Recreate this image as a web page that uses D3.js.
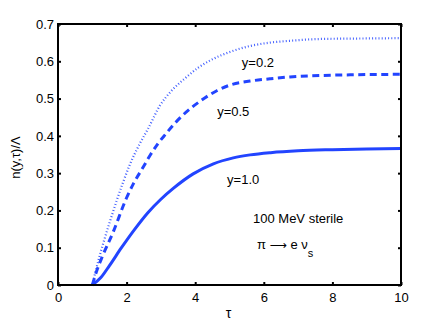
<!DOCTYPE html>
<html>
<head>
<meta charset="utf-8">
<script src="https://cdn.jsdelivr.net/npm/d3@7"></script>
<style>
  body { margin: 0; background: #fff; }
  svg text { font-family: "Liberation Sans", Arial, sans-serif; fill: #000; }
  .axis text { font-size: 13px; }
  .frame { fill: none; stroke: #000; stroke-width: 2; }
  .curve { fill: none; stroke: #2244ff; }
</style>
</head>
<body>
<div class="mainview"></div>
<script>

// tau values and n(y,tau)/Lambda
const tauSolid = [1, 1.25, 1.5, 1.85, 2.24, 2.62, 3.0, 3.36, 3.94, 4.53, 5.11, 5.6, 6.2, 7, 8, 9, 10];
const nSolid   = [0, 0.02, 0.052, 0.100, 0.150, 0.194, 0.230, 0.259, 0.298, 0.325, 0.341, 0.349, 0.355, 0.360, 0.363, 0.365, 0.366];

const tauDashed = [1, 1.13, 1.3, 1.6, 2.0, 2.2, 2.49, 2.66, 2.92, 3.16, 3.38, 3.61, 4.19, 4.63, 5.01, 5.6, 6.18, 6.76, 7.73, 8.71, 10];
const nDashed   = [0, 0.038, 0.078, 0.140, 0.234, 0.272, 0.317, 0.344, 0.380, 0.407, 0.431, 0.453, 0.496, 0.521, 0.536, 0.547, 0.553, 0.558, 0.562, 0.564, 0.565];

const tauDotted = [1, 1.13, 1.32, 1.52, 1.71, 1.9, 2.1, 2.39, 2.63, 2.97, 3.31, 3.7, 4.09, 4.43, 5.01, 5.6, 6.18, 6.76, 7.73, 8.71, 10];
const nDotted   = [0, 0.049, 0.112, 0.172, 0.226, 0.276, 0.324, 0.380, 0.420, 0.481, 0.521, 0.554, 0.583, 0.602, 0.625, 0.641, 0.650, 0.655, 0.660, 0.661, 0.662];

const xTicks = [0, 2, 4, 6, 8, 10];
const yTicks = [0, 0.1, 0.2, 0.3, 0.4, 0.5, 0.6, 0.7];

const dim = { width: 443, height: 324 };
const margin = { top: 24, right: 42, bottom: 39, left: 58 };

const x = d3.scaleLinear()
    .domain([0, 10])
    .range([margin.left, dim.width - margin.right]);

const y = d3.scaleLinear()
    .domain([0, 0.7])
    .range([dim.height - margin.bottom, margin.top]);

const svg = d3.select(".mainview").append("svg")
    .attr("width", dim.width)
    .attr("height", dim.height);

// curves

const line = d3.line()
    .curve(d3.curveMonotoneX)
    .x(d => x(d[0]))
    .y(d => y(d[1]));

const series = [
    { t: tauDotted, n: nDotted, width: 2.2, dash: "1,2.2", op: 0.85 },
    { t: tauDashed, n: nDashed, width: 3, dash: "7,4.5", op: 1 },
    { t: tauSolid, n: nSolid, width: 3, dash: null, op: 1 }
];

svg.append("g")
    .selectAll("path")
    .data(series)
    .join("path")
    .attr("class", "curve")
    .attr("stroke-width", d => d.width)
    .attr("stroke-dasharray", d => d.dash)
    .attr("stroke-opacity", d => d.op)
    .attr("d", d => line(d3.zip(d.t, d.n)));

// axes

const x0 = margin.left, x1 = dim.width - margin.right;
const y0 = dim.height - margin.bottom, y1 = margin.top;

svg.append("g")
    .attr("class", "axis x")
    .attr("transform", `translate(0, ${y0})`)
    .call(d3.axisBottom(x).tickValues(xTicks).tickSize(-3).tickPadding(5).tickFormat(d3.format("d")))
    .call(g => g.select(".domain").remove())
    .call(g => g.selectAll("text").attr("dy", "0.9em"));

svg.append("g")
    .attr("class", "axis y")
    .attr("transform", `translate(${x0}, 0)`)
    .call(d3.axisLeft(y).tickValues(yTicks).tickSize(-3).tickPadding(4)
        .tickFormat(d => d === 0 ? "0" : d3.format(".1f")(d)))
    .call(g => g.select(".domain").remove());

// mirrored ticks on top and right
svg.append("g")
    .attr("transform", `translate(0, ${y1})`)
    .call(d3.axisTop(x).tickValues(xTicks).tickSize(-3).tickFormat(""))
    .call(g => g.select(".domain").remove());

svg.append("g")
    .attr("transform", `translate(${x1}, 0)`)
    .call(d3.axisRight(y).tickValues(yTicks).tickSize(-3).tickFormat(""))
    .call(g => g.select(".domain").remove());

svg.selectAll(".tick line").attr("stroke", "#000").attr("stroke-width", 2);

svg.append("rect")
    .attr("class", "frame")
    .attr("x", x0).attr("y", y1)
    .attr("width", x1 - x0)
    .attr("height", y0 - y1);

// labels

svg.append("text")
    .attr("x", (x0 + x1) / 2 - 1)
    .attr("y", 318)
    .attr("text-anchor", "middle")
    .style("font-size", "14px")
    .text("τ");

svg.append("text")
    .attr("transform", `translate(20, ${(y0 + y1) / 2 + 3}) rotate(-90)`)
    .attr("text-anchor", "middle")
    .style("font-size", "13px")
    .text("n(y,τ)/Λ");

const notes = [
    { text: "y=0.2", tx: 5.36, ny: 0.585 },
    { text: "y=0.5", tx: 4.64, ny: 0.452 },
    { text: "y=1.0", tx: 4.93, ny: 0.270 },
];

svg.append("g")
    .selectAll("text")
    .data(notes)
    .join("text")
    .attr("x", d => x(d.tx))
    .attr("y", d => y(d.ny))
    .style("font-size", "13px")
    .text(d => d.text);

svg.append("text")
    .attr("x", 253)
    .attr("y", 223)
    .style("font-size", "13px")
    .text("100 MeV sterile");

const decay = svg.append("text")
    .attr("x", 257)
    .attr("y", 249)
    .style("font-size", "13px");
decay.append("tspan").text("π ");
decay.append("tspan").style("font-family", "DejaVu Sans").style("font-size", "12px").text("⟶");
decay.append("tspan").text(" e ν");
decay.append("tspan").attr("dy", 8).style("font-size", "11px").text("s");

</script>
</body>
</html>
